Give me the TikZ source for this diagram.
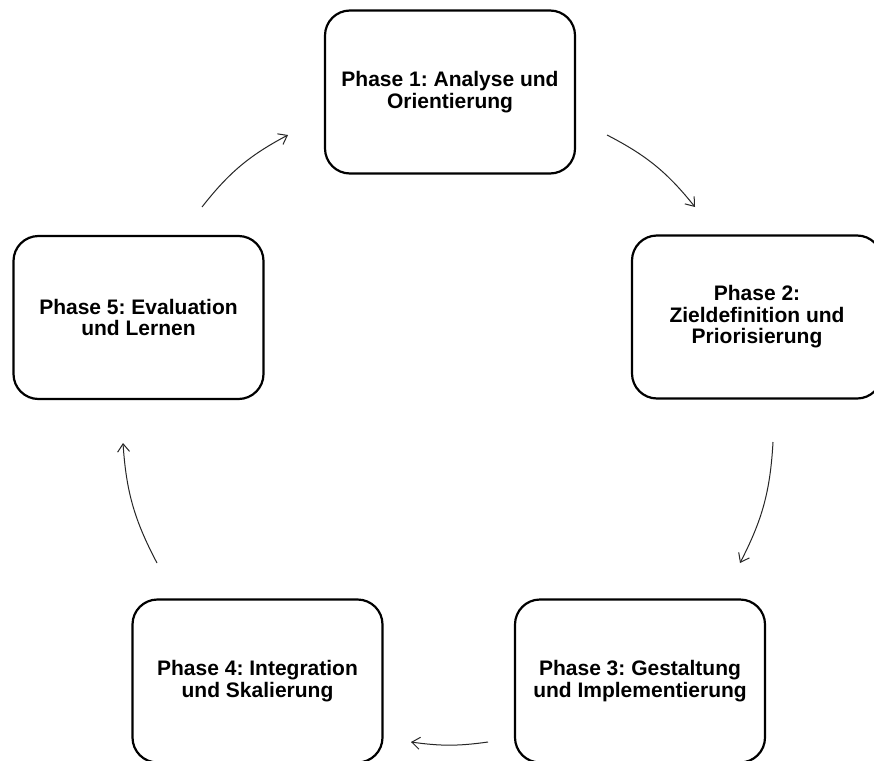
\documentclass[tikz,border=0pt]{standalone}
\usepackage{fontspec}
\setmainfont{Liberation Sans}
\usetikzlibrary{arrows.meta}
\frenchspacing
\begin{document}
\begin{tikzpicture}[x=1pt,y=-1pt,
  phasebox/.style={draw=black, line width=2.2pt, rounded corners=25pt,
    minimum width=250pt, minimum height=163pt, align=center, inner sep=0pt,
    font=\fontsize{21}{21.5}\selectfont\bfseries\frenchspacing},
  cyclearrow/.style={draw=black!85, line width=1pt,
    -{Straight Barb[length=8pt,width=12pt]}, bend left=12}]
\useasboundingbox (0,0) rectangle (874,760);
\fill[white] (0,0) rectangle (874,760);

\node[phasebox] (p1) at (450,92) {Phase 1: Analyse und\\Orientierung};
\node[phasebox] (p2) at (757,317) {Phase 2:\\Zieldefinition und\\Priorisierung};
\node[phasebox] (p3) at (640,681) {Phase 3: Gestaltung\\und Implementierung};
\node[phasebox] (p4) at (257.5,681) {Phase 4: Integration\\und Skalierung};
\node[phasebox] (p5) at (138.5,317.5) {Phase 5: Evaluation\\und Lernen};

\coordinate (a12s) at (607,135); \coordinate (a12e) at (695,207);
\coordinate (a23s) at (773,442); \coordinate (a23e) at (740,563);
\coordinate (a34s) at (488,742); \coordinate (a34e) at (411,742);
\coordinate (a45s) at (157,563); \coordinate (a45e) at (123,443);
\coordinate (a51s) at (202,207); \coordinate (a51e) at (288,135);

\draw[cyclearrow] (a12s) to (a12e);
\draw[cyclearrow] (a23s) to (a23e);
\draw[cyclearrow, bend left=8] (a34s) to (a34e);
\draw[cyclearrow] (a45s) to (a45e);
\draw[cyclearrow] (a51s) to (a51e);
\end{tikzpicture}
\end{document}
